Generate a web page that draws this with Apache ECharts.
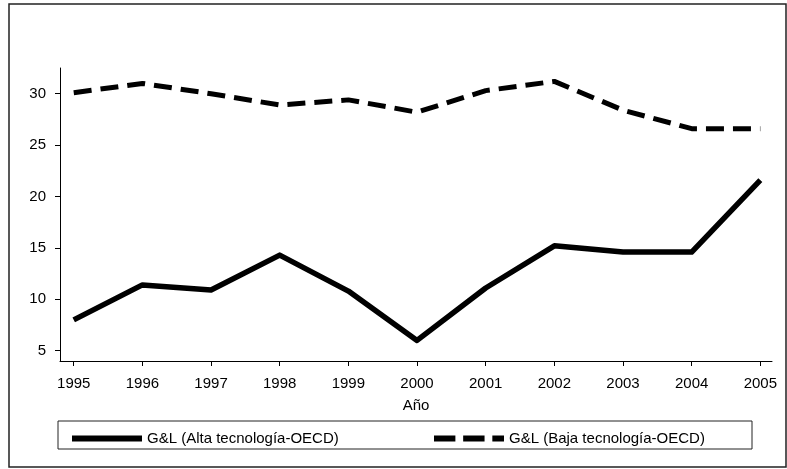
<!DOCTYPE html>
<html>
<head>
<meta charset="utf-8">
<script src="https://cdn.jsdelivr.net/npm/echarts@6/dist/echarts.min.js"></script>
<style>
  html, body { margin: 0; padding: 0; background: #fff; }
  #chart { width: 787px; height: 469px; }
</style>
</head>
<body>
<div id="chart"></div>
<script>
// datos
var years = [1995, 1996, 1997, 1998, 1999, 2000, 2001, 2002, 2003, 2004, 2005];
var alta = [8.0, 11.4, 10.9, 14.3, 10.8, 6.0, 11.1, 15.2, 14.6, 14.6, 21.6];
var baja = [30.1, 31.0, 30.0, 28.9, 29.4, 28.2, 30.3, 31.2, 28.4, 26.6, 26.6];
var yTicks = [5, 10, 15, 20, 25, 30];
var nameAlta = 'G&L (Alta tecnología-OECD)';
var nameBaja = 'G&L (Baja tecnología-OECD)';

var font = 'Liberation Sans, Arial, sans-serif';

function pairs(vals) {
  return years.map(function (y, i) { return [y, vals[i]]; });
}

var chart = echarts.init(document.getElementById('chart'));
chart.setOption({
  animation: false,
  textStyle: { fontFamily: font, color: '#000' },
  grid: { left: 60, right: 15, top: 68, bottom: 108 },
  graphic: [
    {
      type: 'rect',
      shape: { x: 9, y: 4, width: 777, height: 463 },
      style: { fill: 'none', stroke: '#222', lineWidth: 1.5 }
    },
    {
      type: 'rect',
      shape: { x: 58, y: 421, width: 694, height: 28 },
      style: { fill: 'none', stroke: '#222', lineWidth: 1 }
    }
  ],
  legend: [
    {
      data: [{ name: nameAlta, icon: 'rect' }],
      left: 67, top: 426,
      itemWidth: 70, itemHeight: 6, itemGap: 8,
      textStyle: { fontFamily: font, fontSize: 15, color: '#000' }
    },
    {
      data: [{ name: nameBaja, icon: 'path://M0,0h22v6h-22z M30,0h22v6h-22z M60,0h12v6h-12z' }],
      left: 429, top: 426,
      itemWidth: 70, itemHeight: 6,
      textStyle: { fontFamily: font, fontSize: 15, color: '#000' }
    }
  ],
  xAxis: {
    type: 'value',
    min: 1994.8,
    max: 2005.17,
    name: 'Año',
    nameLocation: 'middle',
    nameGap: 37,
    nameTextStyle: { fontFamily: font, fontSize: 15, color: '#000' },
    axisLine: { lineStyle: { color: '#000', width: 1 } },
    axisTick: { customValues: years, length: 5, lineStyle: { color: '#000' } },
    axisLabel: {
      customValues: years,
      formatter: function (v) { return String(v); },
      fontSize: 15, color: '#000', margin: 15
    },
    splitLine: { show: false }
  },
  yAxis: {
    type: 'value',
    min: 4,
    max: 32.5,
    axisLine: { show: true, lineStyle: { color: '#000', width: 1 } },
    axisTick: { show: true, customValues: yTicks, length: 5, lineStyle: { color: '#000' } },
    axisLabel: { customValues: yTicks, fontSize: 15, color: '#000', margin: 14 },
    splitLine: { show: false }
  },
  series: [
    {
      name: nameAlta,
      type: 'line',
      data: pairs(alta),
      showSymbol: false,
      symbol: 'none',
      itemStyle: { color: '#000' },
      lineStyle: { color: '#000', width: 5.5, join: 'round' }
    },
    {
      name: nameBaja,
      type: 'line',
      data: pairs(baja),
      showSymbol: false,
      symbol: 'none',
      itemStyle: { color: '#000' },
      lineStyle: { color: '#000', width: 5, type: [18, 9] }
    }
  ]
});
</script>
</body>
</html>
